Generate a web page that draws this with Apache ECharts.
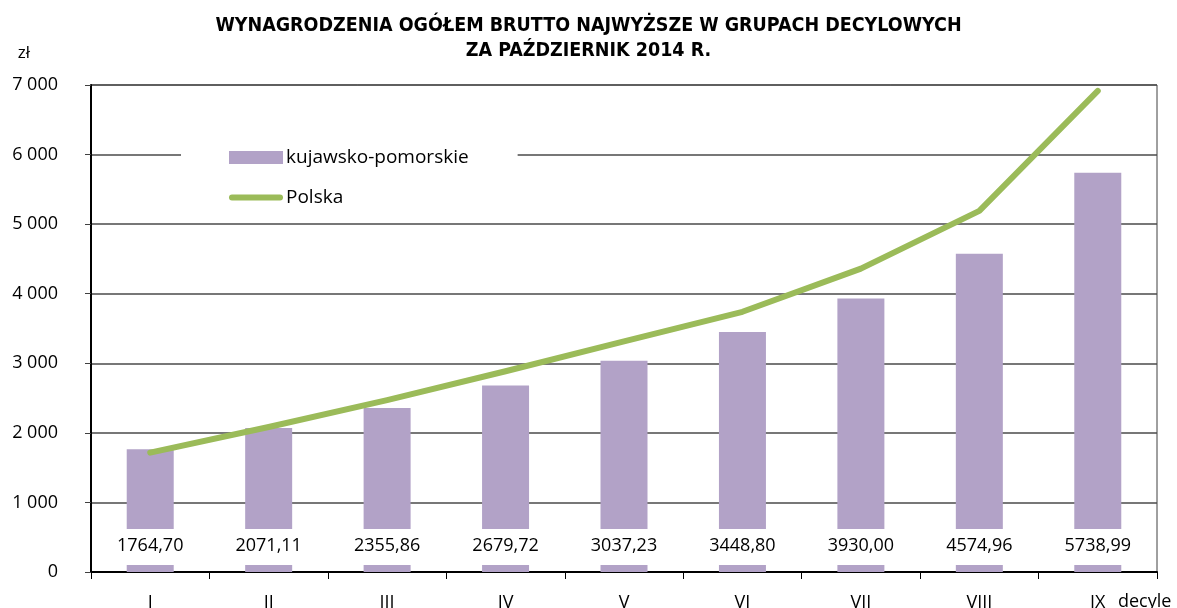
<!DOCTYPE html>
<html>
<head>
<meta charset="utf-8">
<script src="https://cdn.jsdelivr.net/npm/echarts@6/dist/echarts.min.js"></script>
<style>
  html, body { margin: 0; padding: 0; background: #fff; }
  #main { width: 1177px; height: 608px; }
</style>
</head>
<body>
<div id="main"></div>
<script>
// decyle
var categories = ['I', 'II', 'III', 'IV', 'V', 'VI', 'VII', 'VIII', 'IX'];
// kujawsko-pomorskie (values printed on the bars)
var regionValues = [1764.70, 2071.11, 2355.86, 2679.72, 3037.23, 3448.80, 3930.00, 4574.96, 5738.99];
// Polska
var polandValues = [1715, 2085, 2470, 2885, 3315, 3740, 4360, 5190, 6915];
var yTicks = [0, 1000, 2000, 3000, 4000, 5000, 6000, 7000];

var txtFont = '"Open Sans", "Noto Sans", sans-serif';

function thousands(v) {
    return String(v).replace(/\B(?=(\d{3})+(?!\d))/g, ' ');
}

var chart = echarts.init(document.getElementById('main'));
chart.setOption({
    animation: false,
    title: {
        text: 'WYNAGRODZENIA OGÓŁEM BRUTTO NAJWYŻSZE W GRUPACH DECYLOWYCH\nZA PAŹDZIERNIK 2014 R.',
        left: 'center',
        top: 8,
        textStyle: {
            fontFamily: '"DejaVu Sans Condensed", sans-serif',
            fontWeight: 'bold',
            fontSize: 19.5,
            lineHeight: 25,
            color: '#000'
        }
    },
    legend: {
        orient: 'vertical',
        left: 181,
        top: 136,
        padding: [12, 49, 12, 48],
        itemGap: 21,
        itemWidth: 54,
        itemHeight: 13,
        backgroundColor: '#fff',
        textStyle: { fontFamily: txtFont, fontSize: 19, color: '#000', padding: [0, 0, 0, -2] },
        data: [
            { name: 'kujawsko-pomorskie', icon: 'rect' },
            { name: 'Polska', icon: 'path://M0,0 M54,13 M3,3.5 L51,3.5 A3,3,0,0,1,51,9.5 L3,9.5 A3,3,0,0,1,3,3.5 Z' }
        ]
    },
    grid: {
        left: 91,
        right: 20,
        top: 85,
        bottom: 36,
        outerBoundsMode: 'none',
        show: true,
        borderColor: '#404040',
        borderWidth: 1
    },
    xAxis: {
        type: 'category',
        data: categories,
        name: 'decyle',
        nameLocation: 'end',
        nameGap: -39,
        nameTextStyle: {
            fontFamily: txtFont, fontSize: 18, color: '#000',
            align: 'left', verticalAlign: 'top', padding: [21, 0, 0, 0]
        },
        axisLine: { lineStyle: { color: '#000', width: 2 } },
        axisTick: { show: true, length: 7, lineStyle: { color: '#000' } },
        axisLabel: { fontFamily: txtFont, fontSize: 18, color: '#000', margin: 22 },
        splitLine: { show: false }
    },
    yAxis: {
        type: 'value',
        min: yTicks[0],
        max: yTicks[yTicks.length - 1],
        interval: 1000,
        name: 'zł',
        nameLocation: 'end',
        nameGap: 32,
        nameTextStyle: {
            fontFamily: txtFont, fontSize: 17, color: '#000',
            align: 'right', verticalAlign: 'middle', padding: [0, 61, 0, 0]
        },
        axisLine: { show: true, lineStyle: { color: '#000', width: 2 } },
        axisTick: { show: true, length: 6, lineStyle: { color: '#404040' } },
        axisLabel: {
            fontFamily: txtFont, fontSize: 18, color: '#000', margin: 33,
            formatter: function (v) { return thousands(v); }
        },
        splitLine: { show: true, lineStyle: { color: '#4a4a4a', width: 1.5 } }
    },
    series: [
        {
            name: 'kujawsko-pomorskie',
            type: 'bar',
            data: regionValues,
            barWidth: 47,
            itemStyle: { color: '#B2A2C7' },
            label: {
                show: true,
                position: 'insideBottom',
                distance: 7,
                backgroundColor: '#fff',
                padding: [8, 3, 10, 3],
                fontFamily: txtFont,
                fontSize: 18,
                lineHeight: 18,
                color: '#000',
                formatter: function (p) { return p.value.toFixed(2).replace('.', ','); }
            },
            z: 2
        },
        {
            name: 'Polska',
            type: 'line',
            data: polandValues,
            symbol: 'none',
            itemStyle: { color: '#9BBB59' },
            lineStyle: { color: '#9BBB59', width: 6, cap: 'round', join: 'round' },
            z: 3
        }
    ]
});
</script>
</body>
</html>
